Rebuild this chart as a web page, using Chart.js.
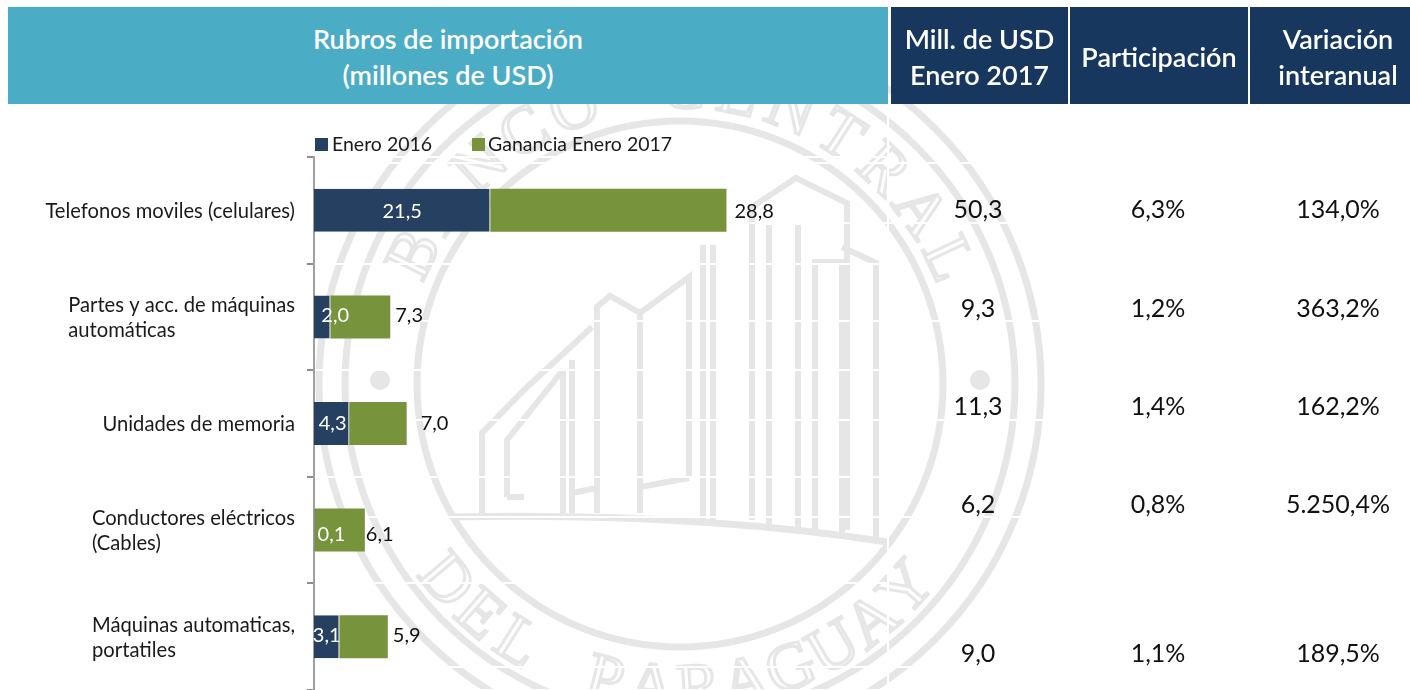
<!DOCTYPE html>
<html lang="es">
<head>
<meta charset="utf-8">
<script src="https://cdn.jsdelivr.net/npm/chart.js@4/dist/chart.umd.min.js"></script>
<style>
html,body{margin:0;padding:0;background:#fff;width:1410px;height:690px;overflow:hidden;font-family:Lato,sans-serif}
#c{position:absolute;left:0;top:0}
.h{position:absolute;top:7px;height:97px;color:#fff;display:flex;align-items:center;justify-content:center;text-align:center;font-size:27px;line-height:36px;font-weight:600}
.h span{display:block;position:relative;top:1px}
.v{position:absolute;transform:translate(-50%,-50%);font-size:25px;color:#111;white-space:nowrap}
</style>
</head>
<body>
<canvas id="c" width="1410" height="690"></canvas>
<div id="overlay"></div>
<script>
const categories = [
  ["Telefonos moviles (celulares)"],
  ["Partes y acc. de máquinas","automáticas"],
  ["Unidades de memoria"],
  ["Conductores eléctricos","(Cables)"],
  ["Máquinas automaticas,","portatiles"]
];
const enero2016 = [21.5, 2.0, 4.3, 0.1, 3.1];
const ganancia2017 = [28.8, 7.3, 7.0, 6.1, 5.9];
const millUsd2017 = ["50,3","9,3","11,3","6,2","9,0"];
const participacion = ["6,3%","1,2%","1,4%","0,8%","1,1%"];
const variacion = ["134,0%","363,2%","162,2%","5.250,4%","189,5%"];
const headerMain = ["Rubros de importación","(millones de USD)"];
const headerCols = [["Mill. de USD","Enero 2017"],["Participación"],["Variación","interanual"]];

// layout only
const headerBoxes = [[8,880,"#4bacc6"],[891,177,"#17375e"],[1070,178,"#17375e"],[1250,160,"#17375e"]];
const headerTextShift = [0,0,0,8];
const colCenters = [978,1158,1338];
const rowCenters = [208,307,405,503,652];
const navyLabelShift = [0,13,1,17,0];
const greenLabelGap = [8,5,14,1,5];
const labelYShift = [1,-1,0,4,-1];

const fmt = v => v.toFixed(1).replace(".",",");
const WM = "#e6e6e6";

const overlay = document.getElementById("overlay");
[headerMain].concat(headerCols).forEach((lines,i)=>{
  const d=document.createElement("div");d.className="h";
  const b=headerBoxes[i];
  d.style.left=b[0]+"px";d.style.width=b[1]+"px";d.style.background=b[2];
  const s=document.createElement("span");
  s.style.left=headerTextShift[i]+"px";
  s.innerHTML=lines.join("<br>");
  d.appendChild(s);
  overlay.appendChild(d);
});
[millUsd2017,participacion,variacion].forEach((col,c)=>{
  col.forEach((t,r)=>{
    const d=document.createElement("div");d.className="v";
    d.style.left=colCenters[c]+"px";d.style.top=rowCenters[r]+"px";d.textContent=t;
    overlay.appendChild(d);
  });
});

function ring(ctx,cx,cy,r,w){ctx.lineWidth=w;ctx.beginPath();ctx.arc(cx,cy,r,0,Math.PI*2);ctx.stroke();}
function poly(ctx,pts,w){ctx.lineWidth=w;ctx.beginPath();pts.forEach((p,i)=>i?ctx.lineTo(p[0],p[1]):ctx.moveTo(p[0],p[1]));ctx.stroke();}
function arcText(ctx,cx,cy,text,startDeg,step,r,bottom){
  [...text].forEach((ch,i)=>{
    const a=(startDeg+step*i)*Math.PI/180;
    ctx.save();
    ctx.translate(cx+r*Math.sin(a),cy-r*Math.cos(a));
    ctx.rotate(a+(bottom?Math.PI:0));
    ctx.strokeText(ch,0,0);
    ctx.restore();
  });
}
const sealPlugin = {
  id:"seal",
  beforeDraw(chart){
    const ctx=chart.ctx,cx=680,cy=384;
    ctx.save();
    ctx.fillStyle="#fff";ctx.fillRect(0,0,1410,690);
    ctx.strokeStyle=WM;ctx.fillStyle=WM;ctx.lineJoin="miter";
    ring(ctx,cx,cy,361,7);ring(ctx,cx,cy,335,7);ring(ctx,cx,cy,263,7);
    ctx.beginPath();ctx.arc(380,380,10,0,7);ctx.arc(980,380,10,0,7);ctx.fill();
    // lettering
    ctx.font="66px 'Liberation Serif'";ctx.textAlign="center";ctx.textBaseline="alphabetic";ctx.lineWidth=3;
    arcText(ctx,cx,cy,"BANCO CENTRAL",-64,10.75,276,false);
    arcText(ctx,cx,cy,"YAUGARAP LED",132,8.9,325,true);
    // building
    const w=6;
    poly(ctx,[[752,520],[752,207],[796,178],[847,203],[847,530]],w);
    poly(ctx,[[769,525],[769,225]],w);
    poly(ctx,[[798,528],[798,225]],w);
    poly(ctx,[[815,530],[815,262],[842,262],[842,532]],w);
    poly(ctx,[[842,247],[876,263],[876,540]],w);
    poly(ctx,[[703,245],[703,520]],w);poly(ctx,[[713,245],[713,520]],w);
    poly(ctx,[[597,513],[597,307],[610,296],[640,313],[689,277],[689,478]],w);
    poly(ctx,[[640,313],[640,513]],w);
    poly(ctx,[[640,487],[689,478]],w);
    poly(ctx,[[482,513],[482,433],[524,390],[592,327]],w);
    poly(ctx,[[507,497],[507,440],[563,370]],w);
    poly(ctx,[[507,497],[524,497]],w);
    poly(ctx,[[563,513],[563,370]],w);poly(ctx,[[572,513],[572,360]],w);
    poly(ctx,[[572,493],[597,488]],w);
    ctx.lineWidth=7;ctx.beginPath();ctx.moveTo(451,517);ctx.quadraticCurveTo(690,512,888,542);ctx.stroke();
    // white table rules over the seal
    ctx.strokeStyle="#fff";ctx.lineWidth=2;
    [163,223,321,420,517,667].forEach(y=>{ctx.beginPath();ctx.moveTo(314,y);ctx.lineTo(1410,y);ctx.stroke();});
    ctx.beginPath();ctx.moveTo(888,104);ctx.lineTo(888,690);ctx.stroke();
    ctx.restore();
  },
  afterDatasetsDraw(chart){
    const ctx=chart.ctx,a=chart.getDatasetMeta(0).data,b=chart.getDatasetMeta(1).data,ys=chart.scales.y;
    ctx.save();
    ctx.textBaseline="middle";
    ctx.font="20px Lato";
    a.forEach((el,i)=>{
      ctx.textAlign="center";ctx.fillStyle="#fff";
      ctx.fillText(fmt(enero2016[i]),(el.x+el.base)/2+navyLabelShift[i],el.y+labelYShift[i]);
      ctx.textAlign="left";ctx.fillStyle="#111";
      ctx.fillText(fmt(ganancia2017[i]),b[i].x+greenLabelGap[i],el.y+labelYShift[i]);
    });
    // category labels: left aligned block ending at the axis gutter
    ctx.font="20.2px Lato";ctx.fillStyle="#1a1a1a";ctx.textAlign="left";
    categories.forEach((lines,i)=>{
      const w=Math.max(...lines.map(l=>ctx.measureText(l).width));
      const y=ys.getPixelForValue(i);
      lines.forEach((l,k)=>ctx.fillText(l,295-w,y+1+(k-(lines.length-1)/2)*25));
    });
    // legend
    ctx.font="19.5px Lato";
    [[315,332],[472,488]].forEach((p,i)=>{
      const ds=chart.data.datasets[i];
      ctx.fillStyle=ds.backgroundColor;ctx.fillRect(p[0],138,13,13);
      ctx.fillStyle="#1a1a1a";ctx.fillText(ds.label,p[1],145);
    });
    ctx.restore();
  }
};

new Chart(document.getElementById("c"),{
  type:"bar",
  data:{
    labels:categories,
    datasets:[
      {label:"Enero 2016",data:enero2016,backgroundColor:"#264061",borderColor:"#d9d9d9",borderWidth:{right:1},barPercentage:0.403,categoryPercentage:1},
      {label:"Ganancia Enero 2017",data:ganancia2017,backgroundColor:"#77933c",barPercentage:0.403,categoryPercentage:1}
    ]
  },
  plugins:[sealPlugin],
  options:{
    indexAxis:"y",responsive:false,animation:false,
    layout:{padding:{top:157,right:522,bottom:0,left:0}},
    plugins:{legend:{display:false},tooltip:{enabled:false},title:{display:false}},
    scales:{
      x:{stacked:true,min:0,max:70,display:false},
      y:{stacked:true,
        afterFit(s){s.width=314;},
        ticks:{display:false},
        border:{color:"#a0a0a0",width:2},
        grid:{color:"#ffffff",lineWidth:2,tickColor:"#8c8c8c",tickLength:7,tickWidth:2}
      }
    }
  }
});
</script>
</body>
</html>
